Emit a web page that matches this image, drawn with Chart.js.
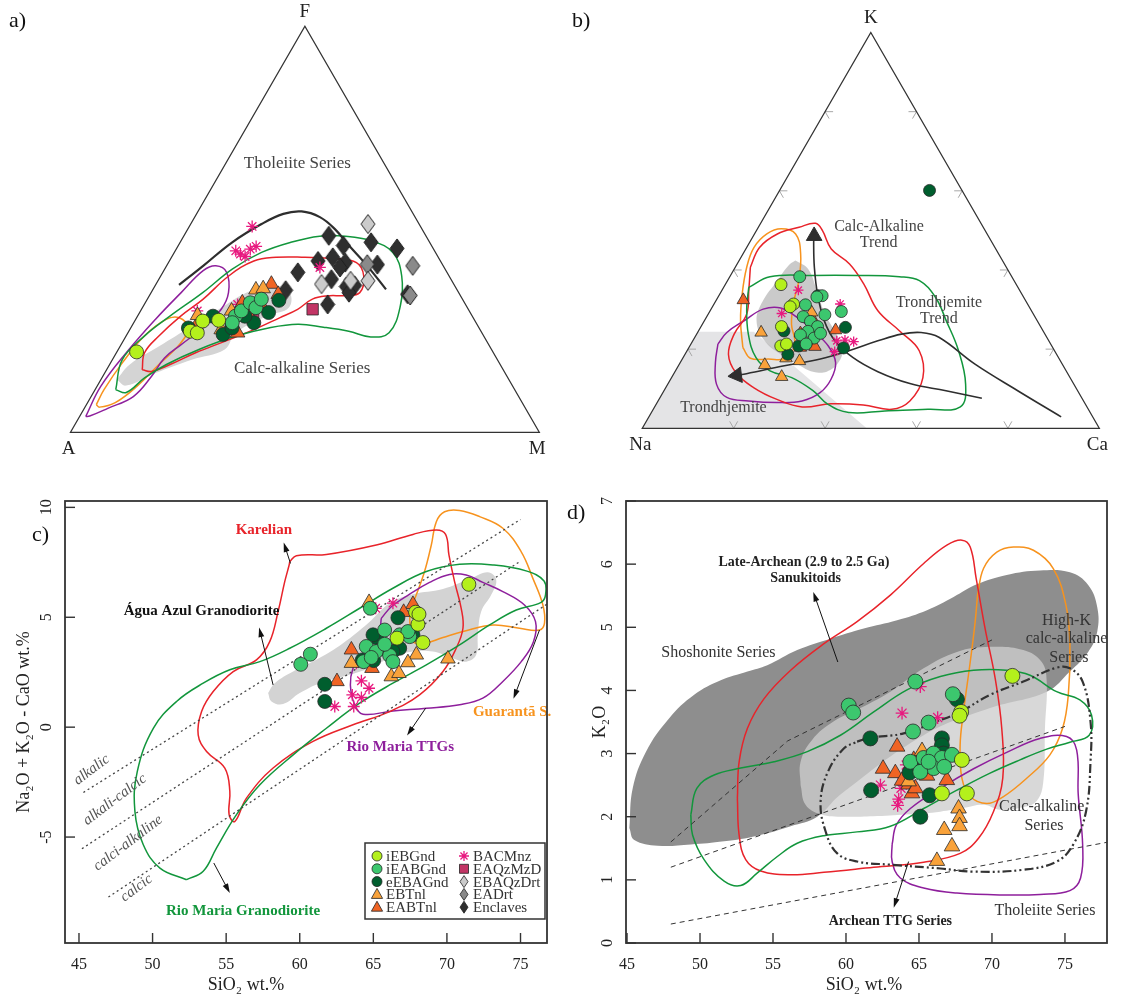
<!DOCTYPE html>
<html>
<head>
<meta charset="utf-8">
<script src="https://cdn.jsdelivr.net/npm/chart.js@4.4.1/dist/chart.umd.min.js"></script>
<style>
  html, body { margin: 0; padding: 0; background: #fff; }
  #wrap { position: relative; width: 1132px; height: 998px; overflow: hidden; }
  #wrap canvas { position: absolute; left: 0; top: 0; }
  .tag { position: absolute; font: 22px "Liberation Serif", "Times New Roman", serif; color: #111; }
</style>
</head>
<body>
<div id="wrap">
  <canvas id="pa" width="1132" height="998"></canvas>
  <canvas id="pb" width="1132" height="998"></canvas>
  <canvas id="pc" width="1132" height="998"></canvas>
  <canvas id="pd" width="1132" height="998"></canvas>
  <div class="tag" style="left:9px;top:7px">a)</div>
  <div class="tag" style="left:572px;top:7px">b)</div>
  <div class="tag" style="left:32px;top:521px">c)</div>
  <div class="tag" style="left:567px;top:499px">d)</div>
</div>
<script>
// ---------- series names (legend order) ----------
const seriesNames = ['iEBGnd', 'iEABGnd', 'eEBAGnd', 'EBTnl', 'EABTnl', 'BACMnz', 'EAQzMzD', 'EBAQzDrt', 'EADrt', 'Enclaves'];

// ---------- a) AFM diagram, values in % as [F, M] (A = 100 - F - M) ----------
const afmDivide  = [[36.3,5.0],[41.0,7.8],[46.8,11.1],[51.3,15.1],[53.8,18.5],[54.4,22.1],[53.0,26.7],[50.1,31.3],[46.0,36.4],[41.0,42.8],[35.2,49.7]];
const afmRMGrd   = [[10.5,4.4],[17.9,2.1],[23.7,3.9],[28.6,6.9],[34.4,11.0],[40.2,14.4],[44.3,18.6],[46.8,23.6],[48.3,29.0],[48.3,34.5],[47.2,40.5],[44.3,46.6],[38.5,51.4],[31.1,54.8],[24.5,55.7],[23.5,52.3],[24.9,46.9],[25.9,41.0],[26.6,35.2],[25.7,29.4],[23.7,23.4],[20.4,17.2],[16.7,12.1],[13.4,9.1],[9.8,7.0]];
const afmKarelian = [[15.4,7.6],[19.6,6.0],[23.7,7.0],[28.6,9.2],[32.8,11.9],[38.5,14.5],[42.2,18.0],[43.1,22.3],[43.1,28.5],[42.8,34.9],[41.8,40.1],[38.5,43.3],[34.4,44.5],[33.7,41.8],[33.6,37.9],[32.8,35.2],[30.3,33.3],[28.2,30.5],[25.3,26.5],[22.4,21.7],[19.6,16.9],[16.7,12.9],[15.0,9.8]];
const afmTTG     = [[3.9,1.3],[11.3,0.8],[19.6,2.1],[27.8,4.2],[34.4,6.4],[39.8,8.4],[41.0,10.5],[39.4,13.6],[34.4,16.5],[30.3,17.0],[25.7,15.4],[21.6,12.8],[18.3,10.9],[13.8,10.4],[8.8,9.0],[5.9,5.0],[4.0,2.1]];
const afmGuaranta = [[6.8,2.1],[10.5,1.9],[17.1,2.5],[23.7,3.9],[27.8,6.5],[28.2,9.1],[25.7,12.3],[21.6,12.4],[16.7,10.5],[11.3,8.5],[7.3,5.9],[6.2,3.1]];
const afmAguaAzul = [[13.0,3.4],[16.7,4.3],[21.2,8.3],[26.2,12.8],[30.7,16.8],[34.8,21.0],[36.1,25.8],[34.4,29.6],[30.7,31.2],[28.8,27.9],[24.5,23.0],[20.4,22.7],[17.9,16.9],[14.6,10.8],[11.5,6.1]];
const afmPoints = {
  iEBGnd:   [[19.8,4.2],[24.9,13.1],[24.5,14.8],[27.4,14.5],[27.6,17.8]],
  iEABGnd:  [[28.6,20.9],[29.9,21.5],[31.9,22.4],[30.7,24.2],[27.0,21.0],[32.8,24.3]],
  eEBAGnd:  [[25.7,12.3],[28.6,16.1],[24.1,20.5],[25.7,21.6],[27.0,25.6],[29.5,27.5],[32.5,28.2],[28.6,22.9]],
  EBTnl:    [[28.8,12.7],[25.3,19.5],[29.9,19.4],[35.1,22.0],[35.4,23.4]],
  EABTnl:   [[26.2,13.7],[24.5,23.4],[31.9,20.7],[29.0,23.5],[31.8,24.6],[36.5,24.6],[34.0,27.3]],
  BACMnz:   [[50.7,13.4],[44.7,12.9],[43.9,14.3],[43.3,15.6],[45.1,15.8],[45.8,16.7],[29.9,12.1],[40.6,32.9],[31.5,19.9]],
  EAQzMzD:  [[25.7,21.4],[29.3,24.3],[30.3,36.5]],
  EBAQzDrt: [[51.3,37.8],[36.5,35.3],[37.3,44.8],[37.3,41.1]],
  EADrt:    [[41.0,52.5],[33.7,55.6],[41.4,42.6]],
  Enclaves: [[48.4,30.9],[46.8,40.7],[45.3,47.0],[42.2,31.7],[43.1,34.4],[46.0,35.2],[41.8,37.7],[40.6,37.2],[41.3,44.8],[37.7,36.8],[35.9,40.9],[36.2,42.5],[39.4,28.8],[35.0,28.4],[31.5,39.1],[34.0,54.9],[34.4,42.2]]
};

// ---------- b) K-Na-Ca diagram, values in % as [K, Ca] (Na = 100 - K - Ca) ----------
const kncTrondField = [[0,0],[24.4,0],[24.4,12.2],[0,49.1]];
const kncAguaAzul = [[42.4,12.3],[40.3,16.1],[34.8,20.8],[28.9,25.5],[24.2,30.2],[20.0,33.8],[16.6,34.6],[14.3,33.2],[14.3,30.2],[16.0,26.2],[18.6,21.0],[22.1,15.7],[27.2,11.4],[32.2,10.3],[37.3,10.9],[41.1,11.4]];
const kncGuaranta = [[20.4,11.8],[27.2,7.9],[33.9,4.9],[40.7,2.5],[45.7,1.6],[49.1,2.7],[50.4,5.2],[49.1,9.0],[44.1,12.6],[37.3,15.6],[31.8,17.2],[26.3,19.5],[21.3,22.7],[17.7,22.6],[17.5,18.8],[17.7,14.8]];
const kncKarelian = [[40.7,3.3],[45.7,2.8],[49.1,5.0],[50.8,8.9],[51.8,12.0],[50.0,14.4],[45.3,18.7],[41.5,24.6],[36.5,30.2],[29.7,36.7],[24.6,44.0],[19.6,50.8],[12.8,55.0],[6.9,55.1],[4.8,52.2],[5.9,45.4],[6.2,38.2],[5.4,32.3],[7.3,25.8],[10.3,19.2],[14.1,13.4],[18.7,9.5],[23.8,8.2],[28.9,8.4],[34.8,5.9]];
const kncRMGrd = [[35.6,5.5],[38.3,8.8],[38.6,18.1],[38.6,27.6],[38.3,37.1],[37.3,42.0],[33.1,47.6],[27.2,52.9],[19.6,59.4],[11.1,65.2],[5.4,66.9],[4.8,60.1],[4.4,50.9],[4.0,43.2],[6.1,37.5],[9.5,32.6],[12.8,26.3],[14.5,20.7],[17.9,15.9],[23.8,11.3],[30.5,7.6]];
const kncTTG = [[21.3,5.9],[24.2,6.4],[27.3,8.8],[30.1,11.4],[30.4,15.1],[28.0,19.9],[24.6,25.1],[20.8,30.3],[16.6,34.0],[12.4,35.1],[9.0,34.4],[6.9,31.5],[6.5,26.2],[6.9,19.8],[7.8,14.6],[11.1,10.7],[16.6,7.7]];
const kncCalcTrend = [[7.6,70.5],[9.5,61.7],[11.3,52.9],[14.3,44.4],[17.9,37.1],[22.1,31.1],[27.2,26.2],[33.9,21.4],[40.7,17.3],[47.0,14.0],[48.6,13.3]];
const kncTrondTrend = [[2.9,90.2],[9.5,77.4],[16.2,64.7],[23.0,53.4],[24.2,48.9],[23.8,44.8],[22.1,40.5],[19.6,35.4],[17.5,30.2],[15.8,23.2],[13.8,15.9],[13.4,14.0]];
const kncPoints = {
  iEBGnd:  [[36.3,12.2],[31.4,17.4],[30.7,17.0],[25.7,17.6],[20.8,19.9],[21.3,20.9]],
  iEABGnd: [[38.3,15.3],[33.5,22.6],[33.2,21.6],[31.2,20.1],[28.7,25.6],[29.5,28.8],[28.2,21.1],[27.0,23.3],[25.7,25.5],[24.5,24.0],[23.6,22.8],[22.8,26.2],[21.3,25.2],[24.0,27.0]],
  eEBAGnd: [[60.1,32.8],[33.5,21.7],[25.5,31.7],[24.6,18.7],[18.7,22.5],[20.3,33.9],[20.8,23.8]],
  EBTnl:   [[24.2,13.9],[16.0,18.8],[17.7,22.6],[17.0,25.9],[13.0,24.0],[29.3,22.4]],
  EABTnl:  [[32.4,5.9],[27.6,23.5],[24.0,22.6],[24.2,25.9],[24.8,29.9],[20.4,24.4],[20.6,27.5]],
  BACMnz:  [[34.9,16.7],[31.4,27.6],[29.0,16.0],[22.1,31.5],[22.3,33.2],[21.9,35.3],[19.4,32.4]]
};

// ---------- c) MALI diagram, [SiO2, Na2O+K2O-CaO] ----------
const cTicksX = [45, 50, 55, 60, 65, 70, 75];
const cTicksY = [-5, 0, 5, 10];
const maliAlkalic   = [[45.3,-2.97],[75.0,9.45]];
const maliAlkCalcic = [[45.2,-5.53],[74.9,7.51]];
const maliCalcAlk   = [[47.0,-7.73],[76.8,5.6]];
const maliKarelian = [[59.32,7.53],[59.77,7.80],[61.81,7.86],[65.20,8.29],[67.69,8.77],[69.28,8.97],[69.91,8.77],[70.14,7.83],[70.52,6.62],[70.97,5.41],[71.09,4.50],[70.63,3.59],[69.73,2.53],[68.14,1.47],[66.11,0.71],[63.62,0.11],[60.90,-0.65],[58.19,-1.86],[56.38,-3.23],[55.59,-4.29],[55.20,-3.98],[55.25,-2.92],[54.91,-1.86],[53.67,-1.11],[53.10,-0.35],[53.33,0.71],[54.12,1.62],[55.48,2.53],[57.06,3.06],[57.96,3.89],[58.53,5.26],[58.98,6.62],[59.28,7.38]];
const maliRMGrd = [[52.31,-6.94],[50.50,-6.41],[49.37,-5.35],[48.80,-3.83],[48.96,-2.02],[50.05,-0.05],[51.63,1.17],[53.44,2.00],[55.25,2.61],[57.29,2.98],[59.32,3.59],[61.81,4.50],[64.07,5.41],[66.33,6.32],[68.60,7.08],[70.86,7.41],[73.12,7.38],[75.38,7.11],[76.60,6.65],[76.70,6.02],[76.40,5.68],[74.71,5.33],[72.90,4.65],[70.86,3.74],[68.60,2.83],[66.33,2.00],[64.07,1.09],[61.81,-0.05],[59.55,-1.26],[57.29,-2.62],[55.70,-3.98],[54.34,-5.50],[53.44,-6.56]];
const maliGuaranta = [[67.47,5.26],[67.92,6.02],[68.48,7.08],[68.94,8.29],[69.28,9.35],[69.84,9.80],[70.86,9.86],[72.22,9.58],[73.80,9.05],[75.05,7.98],[75.84,6.77],[76.52,5.56],[76.63,4.73],[76.29,4.42],[74.93,4.50],[73.12,4.65],[71.09,4.35],[69.73,4.08],[68.48,3.82],[67.69,3.89],[67.51,4.50]];
const maliTTG = [[65.54,4.95],[66.22,5.48],[67.47,6.05],[68.82,6.59],[70.18,6.95],[71.31,6.92],[72.44,6.59],[73.80,6.17],[75.27,5.56],[76.02,4.80],[75.88,3.89],[75.05,2.98],[73.80,2.08],[72.44,1.32],[70.86,1.02],[68.60,0.86],[66.33,0.74],[64.30,0.59],[63.73,1.02],[63.44,1.92],[63.62,2.68],[64.19,3.29],[65.09,3.89],[65.43,4.42]];
const maliAguaAzul = [[57.85,1.55],[58.30,2.00],[59.55,2.53],[61.24,3.11],[62.94,3.82],[64.64,4.73],[66.11,5.64],[67.69,6.05],[69.73,6.29],[71.54,6.74],[72.78,7.05],[73.35,6.70],[73.01,6.02],[72.33,5.26],[72.10,4.20],[71.99,3.29],[71.31,2.98],[70.41,3.14],[69.05,3.44],[67.69,3.44],[66.33,3.21],[64.75,2.68],[62.94,2.30],[61.36,2.00],[60.00,1.55],[58.87,1.05],[58.08,1.17]];
const maliPoints = {
  iEBGnd:  [[71.49,6.50],[67.87,5.23],[68.03,4.68],[68.37,3.85],[66.61,4.05],[68.10,5.14]],
  iEABGnd: [[60.07,2.86],[60.72,3.32],[64.80,5.41],[65.77,4.42],[66.79,4.20],[67.47,4.12],[64.52,3.67],[65.20,3.44],[66.11,3.26],[66.33,2.98],[64.34,2.98],[64.86,3.17],[67.35,4.35],[65.77,3.77]],
  eEBAGnd: [[61.70,1.95],[61.70,1.17],[66.67,4.98],[67.69,4.20],[65.20,4.08],[65.50,3.56],[66.79,3.59],[66.33,3.44],[64.25,3.06],[65.02,3.03],[64.98,4.20]],
  EBTnl:   [[64.71,5.68],[63.51,2.91],[67.92,3.29],[67.35,2.94],[66.22,2.30],[66.74,2.45],[70.07,3.11]],
  EABTnl:  [[63.51,3.52],[62.53,2.08],[64.91,2.68],[67.69,5.59],[67.06,5.23]],
  BACMnz:  [[65.16,5.41],[66.33,5.64],[65.43,3.97],[63.85,2.91],[64.19,2.11],[64.71,1.77],[63.57,1.47],[64.19,1.35],[63.67,0.94],[62.38,0.94]]
};

// ---------- d) K2O vs SiO2 ----------
const dTicksX = [45, 50, 55, 60, 65, 70, 75];
const dTicksY = [0, 1, 2, 3, 4, 5, 6, 7];
const ptShoHighK  = [[48,1.6],[56,3.2],[70,4.8]];
const ptHighKCalc = [[48,1.2],[75,3.43]];
const ptCalcThol  = [[48,0.3],[78,1.6]];
const kSanukitoid = [[45.16,1.82],[45.39,2.45],[46.30,3.03],[47.89,3.56],[49.60,3.93],[51.42,4.16],[53.25,4.30],[54.61,4.40],[56.66,4.64],[58.94,4.82],[61.22,4.98],[63.50,5.11],[65.55,5.27],[67.37,5.48],[68.96,5.68],[71.01,5.83],[73.29,5.90],[75.34,5.87],[76.59,5.67],[77.21,5.32],[77.21,4.93],[76.59,4.61],[75.34,4.30],[73.75,3.98],[69.87,3.72],[65.32,3.29],[59.62,2.35],[58.03,2.00],[56.21,1.85],[53.93,1.70],[51.65,1.61],[49.37,1.56],[47.10,1.54],[45.50,1.63]];
const kAguaAzul = [[56.89,2.50],[56.89,2.87],[57.69,3.22],[59.17,3.51],[60.99,3.72],[63.04,3.98],[65.32,4.35],[67.60,4.61],[69.87,4.69],[72.15,4.64],[73.41,4.45],[73.75,4.14],[73.63,3.40],[73.52,2.56],[73.06,2.25],[71.92,2.14],[70.56,2.11],[69.42,2.19],[68.05,2.14],[66.46,2.08],[64.41,2.04],[62.13,2.01],[59.85,2.00],[58.26,2.04],[57.23,2.19]];
const kKarelian = [[52.56,2.29],[52.68,2.87],[53.25,3.40],[54.39,3.87],[56.21,4.32],[58.49,4.74],[60.76,5.09],[63.04,5.51],[65.32,6.01],[66.91,6.30],[67.94,6.38],[68.51,6.27],[68.92,5.77],[69.53,4.98],[70.22,4.19],[70.67,3.40],[70.74,2.61],[70.10,2.08],[69.08,1.66],[67.82,1.42],[65.32,1.28],[61.90,1.20],[58.49,1.12],[56.21,1.08],[54.16,1.14],[53.13,1.32],[52.68,1.71]];
const kGuaranta = [[69.01,5.51],[69.42,5.93],[70.33,6.19],[71.47,6.27],[72.84,6.22],[74.20,5.93],[75.07,5.35],[75.34,4.72],[75.23,3.93],[74.84,3.40],[73.97,2.98],[72.38,2.61],[70.79,2.32],[69.65,2.21],[68.51,2.32],[67.94,2.61],[67.82,3.14],[68.05,3.66],[68.51,4.45],[68.85,5.09]];
const kRMGrd = [[49.37,2.03],[49.78,2.45],[50.97,2.66],[52.79,2.77],[55.07,2.87],[57.35,3.03],[59.62,3.29],[61.90,3.66],[64.18,4.01],[66.46,4.22],[68.74,4.32],[71.01,4.32],[72.61,4.24],[74.43,3.98],[76.02,3.85],[76.82,3.61],[76.66,3.29],[75.34,3.18],[73.75,3.07],[71.92,2.90],[69.87,2.69],[67.60,2.42],[65.32,2.13],[63.04,1.85],[60.76,1.76],[58.49,1.70],[56.66,1.58],[55.30,1.37],[53.93,1.11],[52.79,0.91],[51.65,0.98],[50.28,1.32],[49.49,1.71]];
const kTTGRM = [[63.16,1.56],[63.45,1.87],[64.41,2.13],[66.46,2.45],[68.74,2.76],[71.01,3.02],[73.29,3.24],[75.11,3.27],[75.80,3.06],[75.91,2.35],[76.21,1.56],[76.07,1.03],[75.34,0.83],[73.29,0.77],[71.01,0.76],[67.60,0.79],[65.32,0.87],[63.72,1.03],[63.16,1.29]];
const kArcheanTTG = [[60.76,3.19],[61.67,3.25],[63.95,3.32],[66.23,3.51],[67.82,3.66],[69.87,3.93],[72.15,4.14],[74.43,4.36],[75.34,4.35],[76.21,4.14],[76.75,3.51],[76.75,2.87],[76.44,2.08],[75.57,1.56],[74.43,1.29],[72.15,1.16],[68.74,1.13],[66.46,1.18],[63.04,1.24],[60.76,1.29],[59.40,1.42],[58.60,1.77],[58.26,2.24],[58.76,2.71],[59.85,3.08]];
const kPoints = {
  iEBGnd:  [[71.40,4.23],[67.89,3.66],[67.78,3.60],[67.94,2.90],[66.57,2.37],[68.28,2.37]],
  iEABGnd: [[60.19,3.76],[60.49,3.65],[64.75,4.14],[67.32,3.94],[65.66,3.49],[64.59,3.35],[64.41,2.87],[65.32,2.93],[66.00,3.00],[66.57,2.93],[67.26,2.98],[66.00,2.77],[66.73,2.79],[65.09,2.71],[65.66,2.87]],
  eEBAGnd: [[61.67,3.24],[61.72,2.42],[65.09,2.00],[65.73,2.34],[66.57,3.24],[66.57,3.13],[66.69,3.00],[67.60,3.86],[65.09,2.79],[64.36,2.70]],
  EBTnl:   [[65.21,3.04],[67.71,2.13],[67.78,1.98],[67.78,1.85],[66.73,1.79],[67.26,1.53],[66.23,1.30],[64.29,2.56]],
  EABTnl:  [[63.50,3.11],[62.54,2.76],[63.38,2.69],[64.64,2.90],[65.55,2.65],[66.91,2.58],[64.29,2.51],[64.52,2.37],[63.84,2.57],[64.75,2.45]],
  BACMnz:  [[63.84,3.64],[65.09,4.06],[66.28,3.57],[62.36,2.50],[64.13,2.82],[63.95,2.61],[63.77,2.45],[63.61,2.28],[63.54,2.18],[64.41,2.50]]
};

// ---------- styling ----------
const SERIF = '"Liberation Serif", "Times New Roman", serif';
const RED = '#e8232a', GREEN = '#12963c', ORANGE = '#f7931e', PURPLE = '#8e1f9c', DARK = '#2e2e2e';
const styles = {
  iEBGnd:   { shape: 'circle',   fill: '#b4f01c' },
  iEABGnd:  { shape: 'circle',   fill: '#3cc76e' },
  eEBAGnd:  { shape: 'circle',   fill: '#005e2e' },
  EBTnl:    { shape: 'triangle', fill: '#f9a23a' },
  EABTnl:   { shape: 'triangle', fill: '#f06424' },
  BACMnz:   { shape: 'star',     fill: '#e8197f' },
  EAQzMzD:  { shape: 'rect',     fill: '#c23565' },
  EBAQzDrt: { shape: 'diamond',  fill: '#cbcbcb' },
  EADrt:    { shape: 'diamond',  fill: '#8a8a8a' },
  Enclaves: { shape: 'diamond',  fill: '#2f2f2f' }
};

function tern(p) { return { x: p[1] / 100 + p[0] / 200, y: p[0] / 100 }; }
function xy(p) { return { x: p[0], y: p[1] }; }
function loop(a) { return a.concat([a[0]]); }

function diamondImg(fill, w, h) {
  const c = document.createElement('canvas');
  c.width = Math.ceil(w + 2); c.height = Math.ceil(h + 2);
  const g = c.getContext('2d');
  g.beginPath();
  g.moveTo(c.width / 2, 1); g.lineTo(c.width - 1, c.height / 2);
  g.lineTo(c.width / 2, c.height - 1); g.lineTo(1, c.height / 2); g.closePath();
  g.fillStyle = fill; g.fill(); g.strokeStyle = '#222'; g.lineWidth = 1; g.stroke();
  return c;
}

function pointSet(name, pts, conv, r) {
  const s = styles[name];
  let ps = s.shape, rad = r;
  if (s.shape === 'diamond') ps = diamondImg(s.fill, r * 1.9, r * 2.7);
  if (s.shape === 'triangle') rad = r * 1.2;
  if (s.shape === 'star') rad = r * 0.85;
  if (s.shape === 'rect') rad = r * 1.15;
  return {
    label: name, data: pts.map(conv), showLine: false, order: 1, clip: false,
    pointStyle: ps, pointRadius: rad,
    pointBackgroundColor: s.fill,
    pointBorderColor: s.shape === 'star' ? s.fill : '#2a2a2a',
    pointBorderWidth: s.shape === 'star' ? 1.3 : 0.8
  };
}
function lineSet(pts, conv, color, extra) {
  return Object.assign({ data: pts.map(conv), showLine: true, borderColor: color, borderWidth: 1.5,
    pointRadius: 0, tension: 0.4, fill: false, order: 2, clip: false }, extra || {});
}
function fieldSet(pts, conv, color, extra) {
  return Object.assign({ data: loop(pts).map(conv), showLine: true, borderWidth: 0, borderColor: 'rgba(0,0,0,0)',
    backgroundColor: color, fill: 'shape', pointRadius: 0, tension: 0.4, order: 3, clip: false }, extra || {});
}
function baseOptions(pad, xr, yr) {
  return {
    responsive: false, animation: false, events: [],
    layout: { padding: pad },
    scales: {
      x: { type: 'linear', display: false, min: xr[0], max: xr[1] },
      y: { type: 'linear', display: false, min: yr[0], max: yr[1] }
    },
    plugins: { legend: { display: false }, tooltip: { enabled: false } }
  };
}

// text labels placed in data coordinates
function notesPlugin(id, items, conv) {
  return { id, afterDatasetsDraw(chart) {
    const ctx = chart.ctx, sx = chart.scales.x, sy = chart.scales.y;
    items.forEach(n => {
      const p = conv(n.at);
      ctx.save();
      ctx.translate(sx.getPixelForValue(p.x), sy.getPixelForValue(p.y));
      if (n.rot) ctx.rotate(n.rot * Math.PI / 180);
      ctx.font = n.font; ctx.fillStyle = n.color;
      ctx.textAlign = 'center'; ctx.textBaseline = 'middle';
      ctx.fillText(n.text, 0, 0);
      ctx.restore();
    });
  } };
}
function arrowsPlugin(id, arrows) {
  return { id, afterDatasetsDraw(chart) {
    const ctx = chart.ctx, sx = chart.scales.x, sy = chart.scales.y;
    ctx.save(); ctx.strokeStyle = '#111'; ctx.fillStyle = '#111'; ctx.lineWidth = 1;
    arrows.forEach(a => {
      const x0 = sx.getPixelForValue(a.from[0]), y0 = sy.getPixelForValue(a.from[1]);
      const x1 = sx.getPixelForValue(a.to[0]), y1 = sy.getPixelForValue(a.to[1]);
      const ang = Math.atan2(y1 - y0, x1 - x0);
      ctx.beginPath(); ctx.moveTo(x0, y0); ctx.lineTo(x1 - 6 * Math.cos(ang), y1 - 6 * Math.sin(ang)); ctx.stroke();
      ctx.beginPath(); ctx.moveTo(x1, y1);
      ctx.lineTo(x1 - 10 * Math.cos(ang - 0.3), y1 - 10 * Math.sin(ang - 0.3));
      ctx.lineTo(x1 - 10 * Math.cos(ang + 0.3), y1 - 10 * Math.sin(ang + 0.3));
      ctx.closePath(); ctx.fill();
    });
    ctx.restore();
  } };
}
// triangle frame + apex labels for ternary plots
function triPlugin(id, names, chevrons) {
  return { id, afterDatasetsDraw(chart) {
    const ctx = chart.ctx, sx = chart.scales.x, sy = chart.scales.y;
    const P = (x, y) => [sx.getPixelForValue(x), sy.getPixelForValue(y)];
    const L = P(0, 0), R = P(1, 0), T = P(0.5, 1);
    ctx.save();
    if (chevrons) {
      ctx.strokeStyle = '#a8a8a8'; ctx.lineWidth = 1;
      const d = 8, c60 = 0.5, s60 = Math.sqrt(3) / 2;
      [0.2, 0.4, 0.6, 0.8].forEach(f => {
        const b = P(f, 0), l = P(f / 2, f), r = P(1 - f / 2, f);
        ctx.beginPath();
        ctx.moveTo(b[0] - d * c60, b[1] - d * s60); ctx.lineTo(b[0], b[1]); ctx.lineTo(b[0] + d * c60, b[1] - d * s60);
        ctx.moveTo(l[0] + d, l[1]); ctx.lineTo(l[0], l[1]); ctx.lineTo(l[0] + d * c60, l[1] + d * s60);
        ctx.moveTo(r[0] - d, r[1]); ctx.lineTo(r[0], r[1]); ctx.lineTo(r[0] - d * c60, r[1] + d * s60);
        ctx.stroke();
      });
    }
    ctx.strokeStyle = '#333'; ctx.lineWidth = 1.3;
    ctx.beginPath(); ctx.moveTo(L[0], L[1]); ctx.lineTo(R[0], R[1]); ctx.lineTo(T[0], T[1]); ctx.closePath(); ctx.stroke();
    ctx.font = '19px ' + SERIF; ctx.fillStyle = '#222'; ctx.textAlign = 'center'; ctx.textBaseline = 'middle';
    ctx.fillText(names[0], L[0] - 2, L[1] + 17);
    ctx.fillText(names[1], T[0], T[1] - 14);
    ctx.fillText(names[2], R[0] - 2, R[1] + 17);
    ctx.restore();
  } };
}
// frame, inward ticks, tick labels and titles for the x-y plots
function framePlugin(id, cfg) {
  return { id, afterDraw(chart) {
    const ctx = chart.ctx, a = chart.chartArea, sx = chart.scales.x, sy = chart.scales.y;
    ctx.save();
    ctx.strokeStyle = '#333'; ctx.lineWidth = 1.8;
    ctx.strokeRect(a.left, a.top, a.right - a.left, a.bottom - a.top);
    ctx.lineWidth = 1.4; ctx.fillStyle = '#222';
    ctx.font = '16px ' + SERIF; ctx.textAlign = 'center'; ctx.textBaseline = 'middle';
    cfg.xTicks.forEach(v => {
      const px = sx.getPixelForValue(v);
      ctx.beginPath(); ctx.moveTo(px, a.bottom); ctx.lineTo(px, a.bottom - 10); ctx.stroke();
      ctx.fillText(String(v), px, a.bottom + 22);
    });
    cfg.yTicks.forEach(v => {
      const py = sy.getPixelForValue(v);
      ctx.beginPath(); ctx.moveTo(a.left, py); ctx.lineTo(a.left + 10, py); ctx.stroke();
      ctx.save(); ctx.translate(a.left - 18, py); ctx.rotate(-Math.PI / 2);
      ctx.fillText(String(v), 0, 0); ctx.restore();
    });
    ctx.font = '18px ' + SERIF;
    ctx.fillText(cfg.xTitle, cfg.xTitleX, a.bottom + 42);
    ctx.save(); ctx.translate(cfg.yTitleX, (a.top + a.bottom) / 2); ctx.rotate(-Math.PI / 2);
    ctx.fillText(cfg.yTitle, 0, 0); ctx.restore();
    ctx.restore();
  } };
}
function drawMark(ctx, s, x, y) {
  ctx.save();
  ctx.fillStyle = s.fill; ctx.strokeStyle = '#222'; ctx.lineWidth = 0.8;
  ctx.beginPath();
  if (s.shape === 'circle') ctx.arc(x, y, 5, 0, Math.PI * 2);
  else if (s.shape === 'triangle') { ctx.moveTo(x, y - 6); ctx.lineTo(x + 5.6, y + 4); ctx.lineTo(x - 5.6, y + 4); ctx.closePath(); }
  else if (s.shape === 'rect') ctx.rect(x - 4.5, y - 4.5, 9, 9);
  else if (s.shape === 'diamond') { ctx.moveTo(x, y - 6); ctx.lineTo(x + 4, y); ctx.lineTo(x, y + 6); ctx.lineTo(x - 4, y); ctx.closePath(); }
  if (s.shape === 'star') {
    ctx.strokeStyle = s.fill; ctx.lineWidth = 1.3;
    for (let k = 0; k < 4; k++) {
      const an = k * Math.PI / 4;
      ctx.moveTo(x - 5 * Math.cos(an), y - 5 * Math.sin(an)); ctx.lineTo(x + 5 * Math.cos(an), y + 5 * Math.sin(an));
    }
    ctx.stroke();
  } else { ctx.fill(); ctx.stroke(); }
  ctx.restore();
}
const legendPlugin = { id: 'legendBox', afterDraw(chart) {
  const ctx = chart.ctx, a = chart.chartArea;
  const w = 180, h = 76, left = a.right - 2 - w, top = a.bottom - 24 - h;
  ctx.save();
  ctx.fillStyle = '#fff'; ctx.fillRect(left, top, w, h);
  ctx.strokeStyle = '#333'; ctx.lineWidth = 1.5; ctx.strokeRect(left, top, w, h);
  ctx.font = '15px ' + SERIF; ctx.textBaseline = 'middle'; ctx.textAlign = 'left';
  seriesNames.forEach((name, i) => {
    const col = i < 5 ? 0 : 1, row = i % 5;
    const mx = left + (col ? 99 : 12), my = top + 13 + row * 12.8;
    drawMark(ctx, styles[name], mx, my);
    ctx.fillStyle = '#333'; ctx.fillText(name, mx + 9, my + 1);
  });
  ctx.restore();
} };

// ---------- a) ----------
const aSets = seriesNames.map(n => pointSet(n, afmPoints[n], tern, 7));
aSets.push(
  lineSet(afmDivide, tern, DARK, { borderWidth: 2.2 }),
  lineSet(loop(afmRMGrd), tern, GREEN),
  lineSet(loop(afmKarelian), tern, RED),
  lineSet(loop(afmTTG), tern, PURPLE),
  lineSet(loop(afmGuaranta), tern, ORANGE),
  fieldSet(afmAguaAzul, tern, '#d4d4d4')
);
new Chart(document.getElementById('pa'), {
  type: 'scatter', data: { datasets: aSets },
  options: baseOptions({ left: 70.5, top: 26.3, right: 592.7, bottom: 565.7 }, [0, 1], [0, 1]),
  plugins: [triPlugin('triA', ['A', 'F', 'M'], false),
    notesPlugin('notesA', [
      { at: [66.2, 15.3], text: 'Tholeiite Series', font: '17px ' + SERIF, color: '#444' },
      { at: [15.6, 41.6], text: 'Calc-alkaline Series', font: '17px ' + SERIF, color: '#444' }
    ], tern)]
});

// ---------- b) ----------
const bNames = seriesNames.slice(0, 6);
const bSets = bNames.map(n => pointSet(n, kncPoints[n], tern, 6));
bSets.push(
  { data: [kncCalcTrend[kncCalcTrend.length - 1]].map(tern), showLine: false, pointStyle: 'triangle',
    pointRadius: 9, pointRotation: 0, pointBackgroundColor: DARK, pointBorderColor: DARK, order: 2, clip: false },
  { data: [kncTrondTrend[kncTrondTrend.length - 1]].map(tern), showLine: false, pointStyle: 'triangle',
    pointRadius: 9, pointRotation: -97, pointBackgroundColor: DARK, pointBorderColor: DARK, order: 2, clip: false },
  lineSet(kncCalcTrend, tern, DARK, { borderWidth: 1.6 }),
  lineSet(kncTrondTrend, tern, DARK, { borderWidth: 1.6 }),
  lineSet(loop(kncRMGrd), tern, GREEN),
  lineSet(loop(kncKarelian), tern, RED),
  lineSet(loop(kncTTG), tern, PURPLE),
  lineSet(loop(kncGuaranta), tern, ORANGE),
  fieldSet(kncAguaAzul, tern, 'rgba(180,180,180,0.7)'),
  fieldSet(kncTrondField, tern, '#e4e4e6', { tension: 0, order: 4 })
);
new Chart(document.getElementById('pb'), {
  type: 'scatter', data: { datasets: bSets },
  options: baseOptions({ left: 642.3, top: 32.5, right: 32.7, bottom: 569.7 }, [0, 1], [0, 1]),
  plugins: [triPlugin('triB', ['Na', 'K', 'Ca'], true),
    notesPlugin('notesB', [
      { at: [51.0, 26.3], text: 'Calc-Alkaline', font: '16px ' + SERIF, color: '#444' },
      { at: [46.8, 28.3], text: 'Trend', font: '16px ' + SERIF, color: '#444' },
      { at: [31.8, 49.0], text: 'Trondhjemite', font: '16px ' + SERIF, color: '#444' },
      { at: [27.6, 51.1], text: 'Trend', font: '16px ' + SERIF, color: '#444' },
      { at: [5.1, 15.2], text: 'Trondhjemite', font: '16px ' + SERIF, color: '#444' }
    ], tern)]
});

// ---------- c) ----------
const cSets = bNames.map(n => pointSet(n, maliPoints[n], xy, 7));
cSets.push(
  lineSet(maliAlkalic, xy, '#444', { borderWidth: 1.3, borderDash: [2, 3], tension: 0, clip: 0 }),
  lineSet(maliAlkCalcic, xy, '#444', { borderWidth: 1.3, borderDash: [2, 3], tension: 0, clip: 0 }),
  lineSet(maliCalcAlk, xy, '#444', { borderWidth: 1.3, borderDash: [2, 3], tension: 0, clip: 0 }),
  lineSet(loop(maliRMGrd), xy, GREEN, { clip: 0 }),
  lineSet(loop(maliKarelian), xy, RED, { clip: 0 }),
  lineSet(loop(maliTTG), xy, PURPLE, { clip: 0 }),
  lineSet(loop(maliGuaranta), xy, ORANGE, { clip: 0 }),
  fieldSet(maliAguaAzul, xy, '#d3d3d3', { clip: 0 })
);
new Chart(document.getElementById('pc'), {
  type: 'scatter', data: { datasets: cSets },
  options: baseOptions({ left: 65, top: 501, right: 585, bottom: 55 }, [44.05, 76.8], [-9.82, 10.29]),
  plugins: [
    framePlugin('frameC', { xTicks: cTicksX, yTicks: cTicksY, xTitle: 'SiO\u2082 wt.%', xTitleX: 246,
      yTitle: 'Na\u2082O + K\u2082O - CaO wt.%', yTitleX: 24 }),
    notesPlugin('notesC', [
      { at: [57.56, 8.97], text: 'Karelian', font: 'bold 15px ' + SERIF, color: RED },
      { at: [53.33, 5.26], text: '\u00c1gua Azul Granodiorite', font: 'bold 15px ' + SERIF, color: '#111' },
      { at: [74.43, 0.67], text: 'Guarant\u00e3 S.', font: 'bold 15px ' + SERIF, color: ORANGE },
      { at: [66.83, -0.91], text: 'Rio Maria TTGs', font: 'bold 15px ' + SERIF, color: PURPLE },
      { at: [56.15, -8.38], text: 'Rio Maria Granodiorite', font: 'bold 15px ' + SERIF, color: GREEN },
      { at: [45.86, -1.94], text: 'alkalic', font: 'italic 15px ' + SERIF, color: '#555', rot: -37 },
      { at: [47.44, -3.30], text: 'alkali-calcic', font: 'italic 15px ' + SERIF, color: '#555', rot: -37 },
      { at: [48.34, -5.27], text: 'calci-alkaline', font: 'italic 15px ' + SERIF, color: '#555', rot: -37 },
      { at: [48.91, -7.32], text: 'calcic', font: 'italic 15px ' + SERIF, color: '#555', rot: -37 }
    ], xy),
    arrowsPlugin('arrowsC', [
      { from: [59.37, 7.45], to: [58.91, 8.40] },
      { from: [58.19, 1.92], to: [57.24, 4.53] },
      { from: [76.29, 4.42], to: [74.52, 1.29] },
      { from: [68.55, 0.86], to: [67.29, -0.38] },
      { from: [54.16, -6.18], to: [55.25, -7.55] }
    ]),
    legendPlugin
  ]
});

// ---------- d) ----------
const dSets = bNames.map(n => pointSet(n, kPoints[n], xy, 7.5));
dSets.push(
  lineSet(loop(kArcheanTTG), xy, '#333', { borderWidth: 2.2, borderDash: [9, 3, 2, 3, 2, 3], clip: 0 }),
  lineSet(ptShoHighK, xy, '#333', { borderWidth: 1, borderDash: [5, 4], tension: 0, clip: 0 }),
  lineSet(ptHighKCalc, xy, '#333', { borderWidth: 1, borderDash: [5, 4], tension: 0, clip: 0 }),
  lineSet(ptCalcThol, xy, '#333', { borderWidth: 1, borderDash: [5, 4], tension: 0, clip: 0 }),
  lineSet(loop(kRMGrd), xy, GREEN, { clip: 0 }),
  lineSet(loop(kKarelian), xy, RED, { clip: 0 }),
  lineSet(loop(kTTGRM), xy, PURPLE, { clip: 0 }),
  lineSet(loop(kGuaranta), xy, ORANGE, { clip: 0 }),
  fieldSet(kAguaAzul, xy, 'rgba(205,205,205,0.78)', { clip: 0 }),
  fieldSet(kSanukitoid, xy, '#8e8e8e', { clip: 0, order: 4 })
);
new Chart(document.getElementById('pd'), {
  type: 'scatter', data: { datasets: dSets },
  options: baseOptions({ left: 626, top: 501, right: 25, bottom: 55 }, [44.93, 77.88], [0, 7]),
  plugins: [
    framePlugin('frameD', { xTicks: dTicksX, yTicks: dTicksY, xTitle: 'SiO\u2082 wt.%', xTitleX: 864,
      yTitle: 'K\u2082O', yTitleX: 600 }),
    notesPlugin('notesD', [
      { at: [57.12, 6.02], text: 'Late-Archean (2.9 to 2.5 Ga)', font: 'bold 14px ' + SERIF, color: '#222' },
      { at: [57.23, 5.77], text: 'Sanukitoids', font: 'bold 14px ' + SERIF, color: '#222' },
      { at: [51.26, 4.60], text: 'Shoshonite Series', font: '16px ' + SERIF, color: '#333' },
      { at: [75.11, 5.11], text: 'High-K', font: '16px ' + SERIF, color: '#333' },
      { at: [75.11, 4.81], text: 'calc-alkaline', font: '16px ' + SERIF, color: '#333' },
      { at: [75.27, 4.51], text: 'Series', font: '16px ' + SERIF, color: '#333' },
      { at: [73.41, 2.15], text: 'Calc-alkaline', font: '16px ' + SERIF, color: '#333' },
      { at: [73.56, 1.85], text: 'Series', font: '16px ' + SERIF, color: '#333' },
      { at: [73.63, 0.51], text: 'Tholeiite Series', font: '16px ' + SERIF, color: '#333' },
      { at: [63.04, 0.35], text: 'Archean TTG Series', font: 'bold 14px ' + SERIF, color: '#222' }
    ], xy),
    arrowsPlugin('arrowsD', [
      { from: [59.44, 4.45], to: [57.76, 5.56] },
      { from: [64.29, 1.29], to: [63.27, 0.56] }
    ])
  ]
});
</script>
</body>
</html>
